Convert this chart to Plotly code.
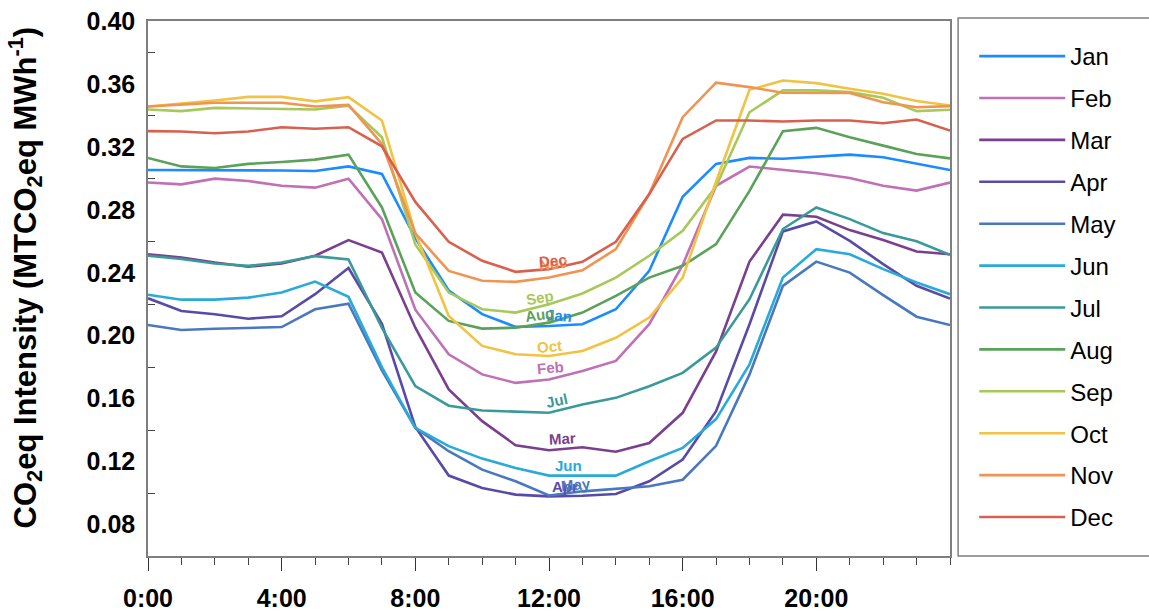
import plotly.graph_objects as go

# Hour of day (0..24, the last point closes the daily cycle)
hours = list(range(25))
tick_hours = [0, 4, 8, 12, 16, 20]
tick_text = ["0:00", "4:00", "8:00", "12:00", "16:00", "20:00"]
y_ticks = [0.08, 0.12, 0.16, 0.20, 0.24, 0.28, 0.32, 0.36, 0.40]
y_tick_text = ["0.08", "0.12", "0.16", "0.20", "0.24", "0.28", "0.32", "0.36", "0.40"]
y_minor_ticks = [0.10, 0.14, 0.18, 0.22, 0.26, 0.30, 0.34, 0.38]

months = ["Jan", "Feb", "Mar", "Apr", "May", "Jun",
          "Jul", "Aug", "Sep", "Oct", "Nov", "Dec"]

# Hourly CO2eq intensity (MTCO2eq MWh-1) per month
jan = [0.3053, 0.3053, 0.3050, 0.3050, 0.3050, 0.3047, 0.3076, 0.3028, 0.2620, 0.2287,
       0.2137, 0.2056, 0.2062, 0.2073, 0.2168, 0.2412, 0.2883, 0.3092, 0.3130, 0.3125,
       0.3140, 0.3151, 0.3134, 0.3092, 0.3053]
feb = [0.2974, 0.2962, 0.2998, 0.2983, 0.2953, 0.2941, 0.2998, 0.2741, 0.2165, 0.1882,
       0.1754, 0.1700, 0.1722, 0.1775, 0.1840, 0.2073, 0.2450, 0.2953, 0.3075, 0.3053,
       0.3032, 0.3002, 0.2953, 0.2922, 0.2973]
mar = [0.2518, 0.2497, 0.2465, 0.2438, 0.2459, 0.2508, 0.2608, 0.2529, 0.2051, 0.1659,
       0.1457, 0.1304, 0.1272, 0.1291, 0.1263, 0.1318, 0.1510, 0.1900, 0.2471, 0.2769,
       0.2756, 0.2671, 0.2608, 0.2535, 0.2518]
apr = [0.2238, 0.2157, 0.2136, 0.2108, 0.2123, 0.2264, 0.2430, 0.2075, 0.1420, 0.1111,
       0.1032, 0.0990, 0.0979, 0.0983, 0.0994, 0.1075, 0.1213, 0.1520, 0.2073, 0.2663,
       0.2726, 0.2603, 0.2455, 0.2317, 0.2236]
may = [0.2068, 0.2036, 0.2044, 0.2051, 0.2055, 0.2168, 0.2204, 0.1780, 0.1414, 0.1266,
       0.1149, 0.1075, 0.0985, 0.1011, 0.1028, 0.1043, 0.1085, 0.1300, 0.1754, 0.2317,
       0.2471, 0.2401, 0.2258, 0.2121, 0.2068]
jun = [0.2260, 0.2229, 0.2229, 0.2242, 0.2274, 0.2344, 0.2247, 0.1800, 0.1414, 0.1298,
       0.1219, 0.1159, 0.1111, 0.1113, 0.1111, 0.1202, 0.1287, 0.1470, 0.1818, 0.2370,
       0.2550, 0.2518, 0.2423, 0.2338, 0.2264]
jul = [0.2508, 0.2487, 0.2459, 0.2444, 0.2465, 0.2506, 0.2484, 0.2050, 0.1680, 0.1555,
       0.1525, 0.1516, 0.1510, 0.1563, 0.1605, 0.1679, 0.1764, 0.1924, 0.2232, 0.2678,
       0.2815, 0.2741, 0.2652, 0.2600, 0.2514]
aug = [0.3130, 0.3076, 0.3066, 0.3092, 0.3104, 0.3119, 0.3151, 0.2815, 0.2274, 0.2094,
       0.2045, 0.2051, 0.2083, 0.2147, 0.2253, 0.2369, 0.2444, 0.2582, 0.2920, 0.3300,
       0.3321, 0.3261, 0.3208, 0.3155, 0.3127]
sep = [0.3438, 0.3427, 0.3448, 0.3446, 0.3444, 0.3438, 0.3461, 0.3261, 0.2580, 0.2274,
       0.2168, 0.2147, 0.2200, 0.2268, 0.2369, 0.2508, 0.2667, 0.2950, 0.3420, 0.3559,
       0.3559, 0.3548, 0.3512, 0.3427, 0.3436]
oct_ = [0.3457, 0.3474, 0.3495, 0.3518, 0.3518, 0.3489, 0.3516, 0.3368, 0.2650, 0.2126,
        0.1935, 0.1882, 0.1871, 0.1903, 0.1987, 0.2115, 0.2369, 0.2980, 0.3563, 0.3622,
        0.3605, 0.3570, 0.3538, 0.3492, 0.3463]
nov = [0.3457, 0.3467, 0.3480, 0.3480, 0.3480, 0.3457, 0.3467, 0.3219, 0.2650, 0.2412,
       0.2349, 0.2342, 0.2370, 0.2416, 0.2550, 0.2900, 0.3389, 0.3608, 0.3580, 0.3544,
       0.3544, 0.3542, 0.3484, 0.3452, 0.3459]
dec = [0.3300, 0.3298, 0.3287, 0.3298, 0.3325, 0.3315, 0.3325, 0.3204, 0.2850, 0.2597,
       0.2476, 0.2406, 0.2423, 0.2470, 0.2597, 0.2900, 0.3251, 0.3368, 0.3368, 0.3361,
       0.3368, 0.3368, 0.3350, 0.3374, 0.3304]

series = [jan, feb, mar, apr, may, jun, jul, aug, sep, oct_, nov, dec]

colors = ["#1a8cff", "#c070b4", "#7a3f8e", "#5a4aa8", "#4a78c0", "#2aaad8",
          "#3a9a9a", "#5aa25a", "#a8c85a", "#f2c244", "#f09452", "#d9604f"]

# In-plot month labels near midday: (x hour, y value, angle)
label_spots = {
    "Dec": (12.11, 0.2480, -5), "Nov": (12.12, 0.2459, -5),
    "Sep": (11.73, 0.2242, -10), "Aug": (11.73, 0.2137, -8),
    "Jan": (12.31, 0.2126, 5), "Oct": (12.00, 0.1932, -5),
    "Feb": (12.05, 0.1796, -5), "Jul": (12.23, 0.1588, -12),
    "Mar": (12.41, 0.1346, -3), "Jun": (12.59, 0.1174, 0),
    "May": (12.81, 0.1053, -5), "Apr": (12.48, 0.1042, 0),
}

FONT = "Liberation Sans, Arial, sans-serif"

fig = go.Figure()
for name, vals, col in zip(months, series, colors):
    fig.add_trace(go.Scatter(
        x=hours, y=vals, mode="lines", name=name,
        line=dict(color=col, width=2.6),
        legendgroup=name,
    ))

for name, col in zip(months, colors):
    lx, ly, ang = label_spots[name]
    fig.add_annotation(
        x=lx, y=ly, xref="x", yref="y", text="<b>%s</b>" % name,
        showarrow=False, textangle=ang,
        font=dict(family=FONT, size=15, color=col),
    )

# Vertical axis title
fig.add_annotation(
    x=-0.1526, y=0.520, xref="paper", yref="paper",
    xanchor="center", yanchor="middle", textangle=-90, showarrow=False,
    text="<b>CO<sub>2</sub>eq Intensity (MTCO<sub>2</sub>eq MWh<sup>-1</sup>)</b>",
    font=dict(family=FONT, size=31, color="black"),
)

axis_grey = "#7f7f7f"
tick_font = dict(family=FONT, size=25, color="black", weight="bold")

fig.update_layout(
    width=1149, height=612,
    margin=dict(l=148, r=199, t=21, b=56, autoexpand=False),
    paper_bgcolor="white", plot_bgcolor="white",
    showlegend=True,
    legend=dict(
        x=1.0302, y=0.9757, xanchor="left", yanchor="top",
        font=dict(family=FONT, size=24, color="black"),
        itemwidth=86, tracegroupgap=7.7,
        bgcolor="rgba(0,0,0,0)", borderwidth=0,
    ),
    xaxis=dict(
        range=[0, 24], tickmode="array", tickvals=tick_hours, ticktext=tick_text,
        ticks="outside", ticklen=13, tickwidth=1.3, tickcolor="#333",
        showline=True, linecolor=axis_grey, linewidth=1.5, mirror=True,
        showgrid=False, zeroline=False,
        tickfont=tick_font, ticklabelstandoff=6,
        minor=dict(dtick=1, ticks="outside", ticklen=7, tickwidth=1.2,
                   tickcolor="#444", showgrid=False),
    ),
    yaxis=dict(
        range=[0.06, 0.40], tickmode="array",
        tickvals=y_ticks, ticktext=y_tick_text,
        ticks="", showline=True, linecolor=axis_grey, linewidth=1.5, mirror=True,
        showgrid=False, zeroline=False,
        tickfont=tick_font, ticklabelstandoff=6,
        minor=dict(tickmode="array", tickvals=y_minor_ticks,
                   ticks="inside", ticklen=7, tickwidth=1.2, tickcolor="#444",
                   showgrid=False),
    ),
    shapes=[dict(
        type="rect", xref="paper", yref="paper",
        x0=1.0101, x1=1.26, y0=0.0, y1=1.0056,
        line=dict(color=axis_grey, width=1.5), fillcolor="rgba(0,0,0,0)",
    )],
)

fig.write_html("out.html")
